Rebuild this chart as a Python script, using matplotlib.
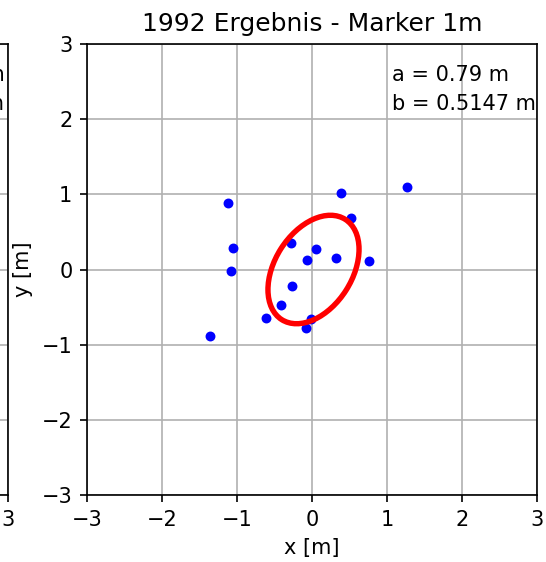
import numpy as np
import matplotlib.pyplot as plt
from matplotlib.patches import Ellipse

# Marker positions (m)
x_pts = [-1.12, 0.38, 0.52, -1.06, -0.28, 0.05, -0.07, 0.32, 0.76,
         -1.08, -0.27, -0.41, -0.61, -0.02, -0.08, -1.36, 1.27]
y_pts = [0.88, 1.02, 0.68, 0.28, 0.35, 0.27, 0.13, 0.15, 0.11,
         -0.02, -0.22, -0.47, -0.64, -0.66, -0.78, -0.88, 1.10]

a_axis = 0.79
b_axis = 0.5147
center = (0.02, 0.0)
angle = 57.5

title = "1992 Ergebnis - Marker 1m"
ticks = [-3, -2, -1, 0, 1, 2, 3]

dpi = 150
fig = plt.figure(figsize=(546 / dpi, 562 / dpi), dpi=dpi)

W, H = 546, 562
# neighbouring panel, mostly cut off on the left
ax0 = fig.add_axes([(8 - 450) / W, 67 / H, 450 / W, 451 / H])
ax = fig.add_axes([87 / W, 67 / H, 450 / W, 451 / H])

for a in (ax0, ax):
    a.set_xlim(-3, 3)
    a.set_ylim(-3, 3)
    a.set_xticks(ticks)
    a.set_yticks(ticks)
    a.grid(True)
    a.set_axisbelow(True)
    a.set_xlabel("x [m]")
    a.set_ylabel("y [m]")

ax0.text(2.95, 2.59, "a = 0.85 m", ha="right", va="center")
ax0.text(2.95, 2.2, "b = 0.6021 m", ha="right", va="center")

ax.scatter(x_pts, y_pts, s=14, color="blue", zorder=3)
ell = Ellipse(center, 2 * a_axis, 2 * b_axis, angle=angle,
              fill=False, edgecolor="red", linewidth=2.6, zorder=4)
ax.add_patch(ell)
ax.text(1.07, 2.59, f"a = {a_axis} m", ha="left", va="center")
ax.text(1.07, 2.2, f"b = {b_axis} m", ha="left", va="center")
ax.set_title(title)

fig.savefig("out.png", dpi=dpi)
